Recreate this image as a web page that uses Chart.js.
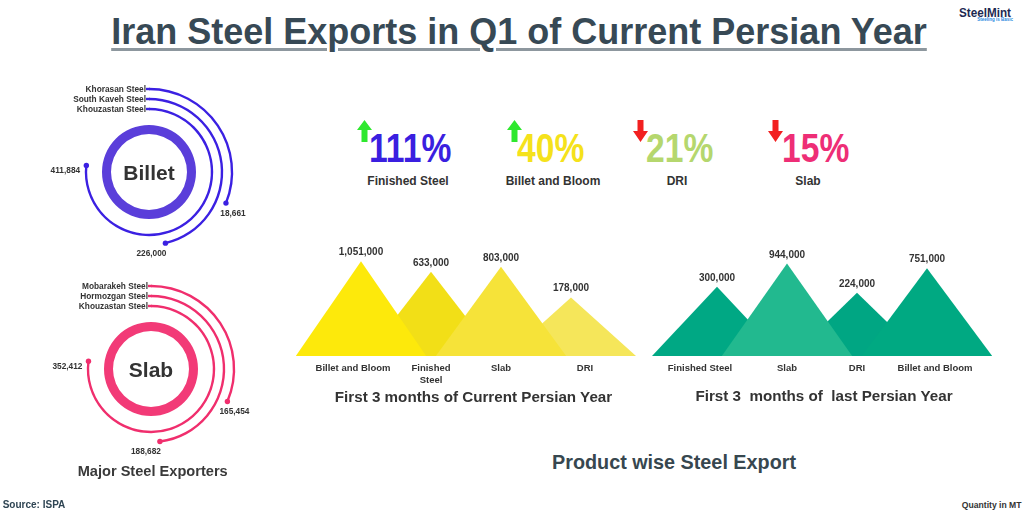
<!DOCTYPE html>
<html>
<head>
<meta charset="utf-8">
<script src="https://cdn.jsdelivr.net/npm/chart.js@4.4.1/dist/chart.umd.min.js"></script>
<style>
  body { margin:0; width:1024px; height:512px; background:#fff; overflow:hidden; position:relative;
         font-family:'Liberation Sans', Arial, Helvetica, sans-serif; font-weight:bold; }
  .t { position:absolute; white-space:pre; line-height:1; }
  canvas { position:absolute; }
</style>
</head>
<body>
<canvas id="billetRing" width="290" height="200" style="left:4px;top:72px"></canvas>
<canvas id="slabRing" width="290" height="200" style="left:6px;top:269px"></canvas>
<canvas id="currentYear" width="350" height="164" style="left:291px;top:232px"></canvas>
<canvas id="lastYear" width="350" height="164" style="left:647px;top:232px"></canvas>
<script>
// major exporters (MT)
const billetCompanies = ['Khorasan Steel', 'South Kaveh Steel', 'Khouzastan Steel'];
const billetValues = [18661, 226000, 411884];
const slabCompanies = ['Mobarakeh Steel', 'Hormozgan Steel', 'Khouzastan Steel'];
const slabValues = [165454, 188682, 352412];

// product wise exports (MT)
const currentCats = ['Billet and Bloom', ['Finished', 'Steel'], 'Slab', 'DRI'];
const currentValues = [1051000, 633000, 803000, 178000];
const lastCats = ['Finished Steel', 'Slab', 'DRI', 'Billet and Bloom'];
const lastValues = [300000, 944000, 224000, 751000];

// change row (computed from the two years)
const changeCats = ['Finished Steel', 'Billet and Bloom', 'DRI', 'Slab'];

const TEXT = '#333333';
const FONT = "'Liberation Sans', Arial, sans-serif";

function addText(txt, x, base, size, color, align, extra) {
  const d = document.createElement('div');
  d.className = 't';
  d.textContent = txt;
  d.style.fontSize = size + 'px';
  d.style.color = color;
  d.style.top = (base - 0.8465 * size) + 'px';
  if (align === 'center') { d.style.left = x + 'px'; d.style.transform = 'translateX(-50%)'; }
  else if (align === 'right') { d.style.right = (1024 - x) + 'px'; }
  else d.style.left = x + 'px';
  if (extra) Object.assign(d.style, extra);
  document.body.appendChild(d);
  return d;
}

// ---------- rings ----------
const arcMid = [83, 73, 63];
const arcWidth = 2.4;
const ringOuter = 47, ringInner = 38;

const ringLabels = {
  id: 'ringLabels',
  afterDatasetsDraw(chart, args, opts) {
    const ctx = chart.ctx;
    ctx.save();
    chart.data.datasets.forEach((ds, i) => {
      const arc = chart.getDatasetMeta(i).data[0];
      if (!arc) return;
      const p = arc.getProps(['x', 'y', 'endAngle', 'innerRadius', 'outerRadius'], true);
      const r = (p.innerRadius + p.outerRadius) / 2;
      if (ds.ring) {
        ctx.fillStyle = TEXT;
        ctx.font = 'bold 21px ' + FONT;
        ctx.textAlign = 'center';
        ctx.textBaseline = 'alphabetic';
        ctx.fillText(opts.centerText, p.x, p.y + 7.5);
        return;
      }
      if (!ds.company) return;
      ctx.font = 'bold 8.3px ' + FONT;
      ctx.fillStyle = TEXT;
      ctx.textAlign = 'right';
      ctx.textBaseline = 'alphabetic';
      ctx.fillText(ds.company, p.x - 3, p.y - r + 3);
      ctx.strokeStyle = opts.arcColor;
      ctx.lineWidth = arcWidth;
      ctx.beginPath();
      ctx.moveTo(p.x - 3, p.y - r);
      ctx.lineTo(p.x + 1, p.y - r);
      ctx.stroke();
      const ex = p.x + r * Math.cos(p.endAngle);
      const ey = p.y + r * Math.sin(p.endAngle);
      ctx.fillStyle = opts.arcColor;
      ctx.beginPath();
      ctx.arc(ex, ey, 2.7, 0, Math.PI * 2);
      ctx.fill();
      const off = opts.valueOffsets[ds.idx];
      ctx.fillStyle = TEXT;
      ctx.textAlign = 'center';
      ctx.fillText(ds.data[0].toLocaleString('en-US'), ex + off[0], ey + off[1] + 3);
    });
    ctx.restore();
  }
};

function drawRing(canvas, centerText, companies, values, ringColor, arcColor, sweeps) {
  const outer = arcMid[0] + arcWidth / 2;
  const datasets = [];
  companies.forEach((name, i) => {
    datasets.push({ data: [values[i]], company: name, idx: i, backgroundColor: arcColor,
                    borderWidth: 0, circumference: sweeps[i], weight: arcWidth });
    const nextEdge = i < companies.length - 1 ? arcMid[i + 1] + arcWidth / 2 : ringOuter;
    datasets.push({ data: [1], backgroundColor: 'rgba(0,0,0,0)', borderWidth: 0,
                    weight: arcMid[i] - arcWidth / 2 - nextEdge });
  });
  datasets.push({ data: [1], ring: true, backgroundColor: ringColor, borderWidth: 0, weight: ringOuter - ringInner });

  new Chart(document.getElementById(canvas), {
    type: 'doughnut',
    data: { labels: [centerText], datasets: datasets },
    options: {
      responsive: false,
      animation: false,
      events: [],
      radius: outer,
      cutout: (ringInner / outer * 100) + '%',
      layout: { padding: 0 },
      plugins: {
        legend: { display: false },
        tooltip: { enabled: false },
        ringLabels: { centerText: centerText, arcColor: arcColor,
                      valueOffsets: [[7, 10], [-14, 10], [-21, 5]] }
      }
    },
    plugins: [ringLabels]
  });
}

drawRing('billetRing', 'Billet', billetCompanies, billetValues, '#5A3EDA', '#3B20E2', [112, 167, 276]);
drawRing('slabRing', 'Slab', slabCompanies, slabValues, '#F23A77', '#F02E6D', [113, 173, 277]);

// ---------- mountain (triangle) charts ----------
const axisMin = 10000, axisMax = 3000000;
const halfBase = 0.93;

const peakLabels = {
  id: 'peakLabels',
  afterDatasetsDraw(chart) {
    const ctx = chart.ctx;
    const bottom = chart.chartArea.bottom;
    ctx.save();
    ctx.fillStyle = TEXT;
    ctx.textAlign = 'center';
    ctx.textBaseline = 'alphabetic';
    chart.data.datasets.forEach((ds, i) => {
      const peak = chart.getDatasetMeta(i).data[1];
      ctx.font = 'bold 10px ' + FONT;
      ctx.fillText(ds.data[1].y.toLocaleString('en-US'), peak.x, peak.y - 6);
      ctx.font = 'bold 9.5px ' + FONT;
      [].concat(ds.category).forEach((line, k) => {
        ctx.fillText(line, peak.x + ds.labelDx, bottom + 14.5 + k * 12);
      });
    });
    ctx.restore();
  }
};

function drawPeaks(canvas, cats, values, colors, orders, labelDx) {
  const datasets = values.map((v, i) => ({
    data: [{ x: i - halfBase, y: axisMin }, { x: i, y: v }, { x: i + halfBase, y: axisMin }],
    category: cats[i],
    labelDx: labelDx[i],
    backgroundColor: colors[i],
    borderColor: 'rgba(0,0,0,0)',
    borderWidth: 0,
    pointRadius: 0,
    tension: 0,
    fill: 'start',
    order: orders[i]
  }));
  new Chart(document.getElementById(canvas), {
    type: 'line',
    data: { datasets: datasets },
    options: {
      responsive: false,
      animation: false,
      events: [],
      layout: { padding: { top: 8, bottom: 40, left: 0, right: 0 } },
      scales: {
        x: { type: 'linear', min: -1, max: 4, display: false },
        y: { type: 'logarithmic', min: axisMin, max: axisMax, display: false }
      },
      plugins: { legend: { display: false }, tooltip: { enabled: false } }
    },
    plugins: [peakLabels]
  });
}

drawPeaks('currentYear', currentCats, currentValues,
          ['#FDE90B', '#F2DF17', '#F6E339', '#F5E65A'], [1, 3, 0, 2], [-8, 0, 0, 14]);
drawPeaks('lastYear', lastCats, lastValues,
          ['#00A884', '#22B98F', '#00A683', '#00A982'], [3, 1, 2, 0], [-17, 0, 0, 8]);

// ---------- change row ----------
const catName = c => [].concat(c).join(' ');
const changeColors = ['#3A1FE0', '#F5E21B', '#B5D76E', '#EE2E76'];
const pctLeft = [369, 517, 646, 782];
const arrowLeft = [357, 507, 633, 768];
const nameCenter = [408, 553, 677, 808];
const svgNS = 'http://www.w3.org/2000/svg';

changeCats.forEach((name, i) => {
  const cur = currentValues[currentCats.findIndex(c => catName(c) === name)];
  const prev = lastValues[lastCats.findIndex(c => catName(c) === name)];
  const up = cur > prev;
  const pct = Math.round(Math.abs(cur - prev) / prev * 100);

  const svg = document.createElementNS(svgNS, 'svg');
  svg.setAttribute('width', 15);
  svg.setAttribute('height', 22);
  svg.style.cssText = 'position:absolute;left:' + arrowLeft[i] + 'px;top:120px';
  const poly = document.createElementNS(svgNS, 'polygon');
  poly.setAttribute('points', up ? '7.5,0 15,10 10.5,10 10.5,22 4.5,22 4.5,10 0,10'
                                 : '4.5,0 10.5,0 10.5,11 15,11 7.5,22 0,11 4.5,11');
  poly.setAttribute('fill', up ? '#2EE82E' : '#F22020');
  svg.appendChild(poly);
  document.body.appendChild(svg);

  addText(pct + '%', pctLeft[i], 163, 41, changeColors[i], 'left',
          { transform: 'scaleX(0.82)', transformOrigin: 'left' });
  addText(name, nameCenter[i], 185, 12, TEXT, 'center');
});

// ---------- titles & notes ----------
addText('Iran Steel Exports in Q1 of Current Persian Year', 519, 44, 36, '#374955', 'center',
        { textDecoration: 'underline', textDecorationColor: '#8d979e',
          textDecorationThickness: '3px', textUnderlineOffset: '4px' });
addText('Major Steel Exporters', 152.7, 476, 14.6, '#3a3a3a', 'center');
addText('Product wise Steel Export', 674, 470, 19.8, '#37474F', 'center');
addText('First 3 months of Current Persian Year', 473.5, 402, 15.2, TEXT, 'center');
addText('First 3  months of  last Persian Year', 824, 401, 15.2, TEXT, 'center');
addText('Source: ISPA', 2.7, 508.5, 10, '#2F4553', 'left');
addText('Quantity in MT', 1021.5, 508.5, 8.6, TEXT, 'right');

// logo
addText('SteelMint', 959, 17.3, 13, '#1D2951', 'left', { transform: 'scaleX(0.9)', transformOrigin: 'left' });
addText('Steeling is Basic', 1013, 22, 4.5, '#2C8BE0', 'right');
</script>
</body>
</html>
